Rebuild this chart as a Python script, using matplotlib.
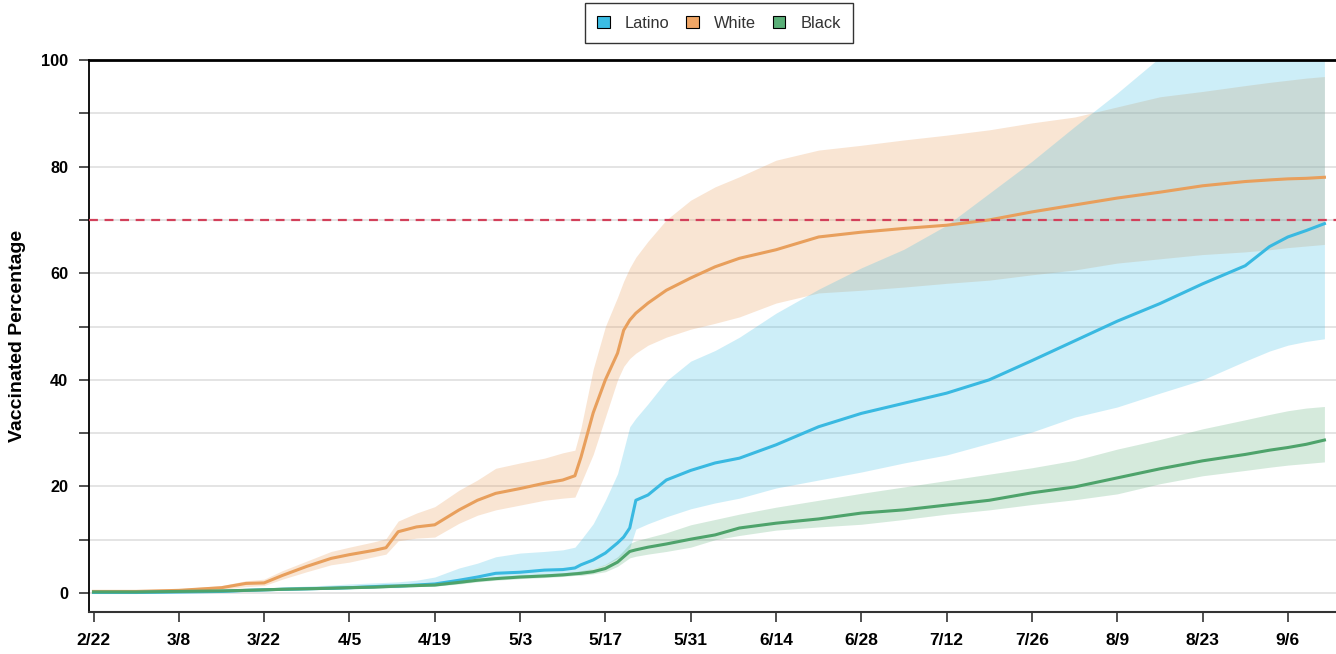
import matplotlib
matplotlib.use("Agg")
import matplotlib.pyplot as plt
import matplotlib.ticker as mticker
from matplotlib.patches import Patch
import pandas as pd

plt.rcParams['font.family'] = ['Liberation Sans', 'DejaVu Sans']

# sampled dates (2021)
dates = ['2021-02-22', '2021-03-01', '2021-03-08', '2021-03-15', '2021-03-19', '2021-03-22',
         '2021-03-25', '2021-03-29', '2021-04-02', '2021-04-05', '2021-04-09', '2021-04-11',
         '2021-04-13', '2021-04-16', '2021-04-19', '2021-04-23', '2021-04-26', '2021-04-29',
         '2021-05-03', '2021-05-07', '2021-05-10', '2021-05-12', '2021-05-13', '2021-05-15',
         '2021-05-17', '2021-05-19', '2021-05-20', '2021-05-21', '2021-05-22', '2021-05-24',
         '2021-05-27', '2021-05-31', '2021-06-04', '2021-06-08', '2021-06-14', '2021-06-21',
         '2021-06-28', '2021-07-05', '2021-07-12', '2021-07-19', '2021-07-26', '2021-08-02',
         '2021-08-09', '2021-08-16', '2021-08-23', '2021-08-30', '2021-09-03', '2021-09-06',
         '2021-09-09', '2021-09-12']

# Latino
latino = [0.1, 0.1, 0.2, 0.3, 0.5, 0.6, 0.7, 0.8, 0.9, 1.0,
          1.2, 1.3, 1.3, 1.5, 1.7, 2.4, 3.0, 3.7, 3.9, 4.3,
          4.4, 4.7, 5.3, 6.2, 7.5, 9.4, 10.5, 12.2, 17.4, 18.4,
          21.2, 23.0, 24.4, 25.3, 27.8, 31.2, 33.7, 35.6, 37.5, 40.0,
          43.6, 47.3, 51.0, 54.3, 58.0, 61.4, 65.0, 66.8, 68.0, 69.3]
latino_hi = [0.2, 0.2, 0.3, 0.5, 0.8, 0.9, 1.1, 1.3, 1.5, 1.7,
             1.9, 2.0, 2.1, 2.4, 3.0, 4.7, 5.6, 6.8, 7.5, 7.8,
             8.1, 8.6, 10.0, 13.0, 17.4, 22.4, 26.8, 31.2, 32.8, 35.5,
             39.8, 43.5, 45.5, 48.0, 52.5, 57.0, 61.0, 64.5, 69.0, 75.0,
             81.0, 87.5, 93.8, 100.5, 104.0, 107.0, 108.0, 109.0, 110.0, 110.0]
latino_lo = [0.0, 0.0, 0.0, 0.1, 0.3, 0.4, 0.5, 0.6, 0.7, 0.8,
             0.9, 1.0, 1.0, 1.2, 1.3, 1.8, 2.3, 2.7, 3.0, 3.3,
             3.5, 3.7, 4.0, 4.6, 5.3, 6.5, 7.4, 8.5, 12.0, 13.0,
             14.3, 15.8, 16.9, 17.8, 19.7, 21.2, 22.7, 24.4, 25.9, 28.1,
             30.2, 33.0, 34.9, 37.5, 40.0, 43.5, 45.4, 46.5, 47.2, 47.7]

# White
white = [0.3, 0.3, 0.5, 1.0, 1.8, 1.9, 3.3, 5.0, 6.5, 7.2,
         8.0, 8.5, 11.5, 12.4, 12.8, 15.6, 17.4, 18.7, 19.6, 20.6,
         21.2, 22.0, 25.5, 33.8, 40.0, 45.0, 49.3, 51.2, 52.5, 54.4,
         56.8, 59.1, 61.2, 62.8, 64.4, 66.8, 67.7, 68.4, 69.0, 70.0,
         71.5, 72.8, 74.1, 75.2, 76.4, 77.2, 77.5, 77.7, 77.8, 78.0]
white_hi = [0.6, 0.6, 0.8, 1.4, 2.3, 2.6, 4.2, 6.0, 7.8, 8.6,
            9.6, 10.2, 13.5, 15.0, 16.2, 19.3, 21.2, 23.4, 24.4, 25.3,
            26.3, 26.8, 31.0, 42.0, 50.0, 55.5, 58.5, 61.0, 63.0, 66.0,
            70.0, 73.7, 76.2, 78.1, 81.2, 83.1, 84.0, 85.0, 85.9, 86.9,
            88.2, 89.3, 91.2, 93.1, 94.1, 95.2, 95.8, 96.2, 96.6, 96.9]
white_lo = [0.1, 0.1, 0.3, 0.7, 1.2, 1.4, 2.6, 4.0, 5.3, 5.8,
            6.8, 7.3, 9.8, 10.3, 10.5, 13.1, 14.6, 15.6, 16.5, 17.4,
            17.8, 18.0, 20.6, 26.0, 33.0, 40.0, 42.5, 44.0, 45.0, 46.5,
            48.0, 49.5, 50.6, 51.8, 54.4, 56.3, 56.8, 57.4, 58.1, 58.7,
            59.7, 60.6, 61.9, 62.7, 63.5, 64.0, 64.4, 64.8, 65.1, 65.4]

# Black
black = [0.2, 0.2, 0.3, 0.4, 0.5, 0.6, 0.7, 0.8, 0.9, 1.0,
         1.1, 1.2, 1.3, 1.4, 1.5, 2.0, 2.4, 2.7, 3.0, 3.2,
         3.4, 3.6, 3.7, 4.0, 4.6, 5.8, 6.8, 7.8, 8.1, 8.6,
         9.2, 10.1, 10.9, 12.2, 13.1, 13.9, 15.0, 15.6, 16.5, 17.4,
         18.8, 19.9, 21.6, 23.3, 24.8, 26.0, 26.8, 27.3, 27.9, 28.7]
black_hi = [0.5, 0.5, 0.6, 0.8, 0.9, 1.0, 1.1, 1.2, 1.3, 1.4,
            1.5, 1.6, 1.7, 1.8, 1.9, 2.4, 2.8, 3.1, 3.4, 3.6,
            3.8, 4.0, 4.2, 4.6, 5.4, 6.8, 8.0, 9.3, 9.8, 10.4,
            11.3, 12.8, 13.8, 14.8, 16.1, 17.4, 18.7, 19.9, 21.1, 22.3,
            23.5, 24.9, 27.0, 28.8, 30.8, 32.5, 33.5, 34.2, 34.7, 35.0]
black_lo = [0.0, 0.0, 0.1, 0.2, 0.3, 0.4, 0.5, 0.6, 0.7, 0.8,
            0.9, 1.0, 1.1, 1.2, 1.3, 1.7, 2.1, 2.4, 2.7, 2.9,
            3.1, 3.3, 3.3, 3.6, 4.0, 5.0, 5.8, 6.6, 6.9, 7.3,
            7.8, 8.6, 10.0, 10.8, 11.8, 12.4, 12.9, 13.8, 14.8, 15.6,
            16.6, 17.5, 18.6, 20.5, 22.0, 23.0, 23.6, 24.0, 24.3, 24.6]

tick_dates = ['2021-02-22', '2021-03-08', '2021-03-22', '2021-04-05', '2021-04-19',
              '2021-05-03', '2021-05-17', '2021-05-31', '2021-06-14', '2021-06-28',
              '2021-07-12', '2021-07-26', '2021-08-09', '2021-08-23', '2021-09-06']
tick_labels = ['2/22', '3/8', '3/22', '4/5', '4/19', '5/3', '5/17', '5/31',
               '6/14', '6/28', '7/12', '7/26', '8/9', '8/23', '9/6']
target_pct = 70

x = pd.to_datetime(dates)

fig = plt.figure(figsize=(13.36, 6.54), dpi=100)
ax = fig.add_axes([89 / 1336, 1 - 612 / 654, 1 - 89 / 1336, (612 - 60) / 654])

c_lat, c_wht, c_blk = '#3bbde4', '#eba263', '#58ad76'

# bands
ax.fill_between(x, white_lo, white_hi, color=c_wht, alpha=0.28, lw=0, zorder=2)
ax.fill_between(x, latino_lo, latino_hi, color=c_lat, alpha=0.25, lw=0, zorder=2)
ax.fill_between(x, black_lo, black_hi, color=c_blk, alpha=0.25, lw=0, zorder=2)

# lines
ax.plot(x, white, color='#e89f5c', lw=2.2, zorder=3)
ax.plot(x, latino, color='#39b9e1', lw=2.2, zorder=3)
ax.plot(x, black, color='#4ea36b', lw=2.2, zorder=3)

ax.axhline(target_pct, color='#d2405a', lw=1.6, dashes=(4, 3), zorder=4)

ax.set_ylim(-3.56, 100)
ax.set_xlim(pd.Timestamp('2021-02-22') - pd.Timedelta(days=0.74),
            pd.Timestamp('2021-02-22') + pd.Timedelta(days=203.9))

ax.set_yticks(range(0, 101, 10))
ax.yaxis.set_major_formatter(mticker.FuncFormatter(lambda v, p: f'{int(v)}' if int(v) % 20 == 0 else ''))
ax.set_xticks(pd.to_datetime(tick_dates))
ax.set_xticklabels(tick_labels)
ax.grid(axis='y', color='#dcdcdc', lw=1.1, zorder=0)
ax.set_axisbelow(True)

ax.tick_params(axis='y', length=7, width=1.2, pad=8, labelsize=11.7, color='#333333')
ax.tick_params(axis='x', length=7, width=1.2, pad=8, labelsize=12.5, color='#333333')
for lab in ax.get_xticklabels() + ax.get_yticklabels():
    lab.set_fontweight('bold')

ax.spines['right'].set_visible(False)
ax.spines['top'].set_linewidth(2.0)
ax.spines['left'].set_linewidth(1.3)
ax.spines['bottom'].set_linewidth(1.5)
ax.spines['bottom'].set_color('#333333')

fig.text(18 / 1336, 1 - 336 / 654, 'Vaccinated Percentage', rotation=90,
         ha='center', va='center', fontsize=14, fontweight='bold')

handles = [Patch(facecolor='#3bbde4', edgecolor='black', lw=0.8, label='Latino'),
           Patch(facecolor='#f0a666', edgecolor='black', lw=0.8, label='White'),
           Patch(facecolor='#5aaf78', edgecolor='black', lw=0.8, label='Black')]
leg = fig.legend(handles=handles, loc='center', bbox_to_anchor=(719 / 1336, 1 - 23 / 654),
                 ncol=3, fontsize=11.8, frameon=True, fancybox=False,
                 handlelength=0.75, handleheight=0.75, handletextpad=0.95,
                 columnspacing=1.0, borderpad=0.75)
leg.get_frame().set_edgecolor('black')
leg.get_frame().set_linewidth(1.0)
for t in leg.get_texts():
    t.set_color('#333333')

fig.savefig('out.png', dpi=100)
